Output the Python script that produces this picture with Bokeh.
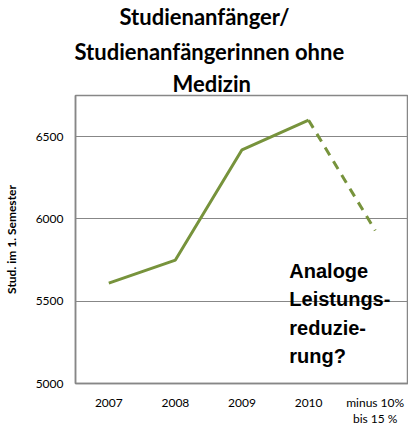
from bokeh.plotting import figure
from bokeh.models import Title, Label, FactorRange, Range1d
from bokeh.embed import file_html
from bokeh.resources import INLINE

categories = ["2007", "2008", "2009", "2010", "minus 10%\nbis 15 %"]
solid_cats = ["2007", "2008", "2009", "2010"]
solid_vals = [5610, 5750, 6420, 6600]
dash_cats = ["2010", "minus 10%\nbis 15 %"]
dash_vals = [6600, 5930]
y_ticks = [5000, 5500, 6000, 6500]
title_lines = ["Studienanfänger/", "Studienanfängerinnen ohne", "Medizin"]
title_offsets = [42, -1, 97]
title_standoffs = [-3, 10, -3]
title_paddings = [2, 0, 0]
y_label = "Stud. im 1. Semester"
note = "Analoge\nLeistungs-\nreduzie-\nrung?"

GREEN = "#77933c"
GRAY = "#878787"
FONT = "Lato"

p = figure(x_range=FactorRange(*categories), y_range=Range1d(5000, 6750),
           frame_width=333, frame_height=288, output_backend="svg", toolbar_location=None,
           min_border_left=68, min_border_right=0, min_border_bottom=0, min_border_top=0)

for t, off, so, pad in reversed(list(zip(title_lines, title_offsets, title_standoffs, title_paddings))):
    p.add_layout(Title(text=t, align="left", offset=off, text_font=FONT, text_font_size="22px",
                       text_font_style="bold", text_color="#000000", standoff=so,
                       padding=pad), "above")

p.line(solid_cats, solid_vals, line_color=GREEN, line_width=3)
p.line(dash_cats, dash_vals, line_color=GREEN, line_width=3, line_dash="9 7")

p.xgrid.grid_line_color = None
p.ygrid.grid_line_color = GRAY
p.ygrid.grid_line_width = 1
p.yaxis.ticker = y_ticks
p.yaxis.axis_label = y_label
p.yaxis.axis_label_text_font = FONT
p.yaxis.axis_label_text_font_size = "12px"
p.yaxis.axis_label_text_font_style = "bold"
p.yaxis.axis_label_text_color = "#000000"
p.yaxis.axis_label_standoff = 14
p.yaxis.major_label_standoff = 12
for ax in (p.xaxis[0], p.yaxis[0]):
    ax.axis_line_color = GRAY
    ax.axis_line_width = 1.5
    ax.major_tick_line_color = None
    ax.minor_tick_line_color = None
    ax.major_tick_out = 0
    ax.major_tick_in = 0
    ax.minor_tick_out = 0
    ax.major_label_text_font = FONT
    ax.major_label_text_font_size = "12px"
    ax.major_label_text_color = "#000000"
p.xaxis.major_label_standoff = 11
p.xaxis.major_label_text_line_height = 1.1
p.outline_line_color = GRAY
p.outline_line_width = 1.5
p.background_fill_color = "white"
p.border_fill_color = "white"

p.add_layout(Label(x=3.21, y=5753, text=note, text_font="Liberation Sans",
                   text_font_size="20px", text_font_style="bold", text_baseline="top",
                   text_line_height=1.3, text_color="#000000"))

open("out.html", "w").write(file_html(p, INLINE))
